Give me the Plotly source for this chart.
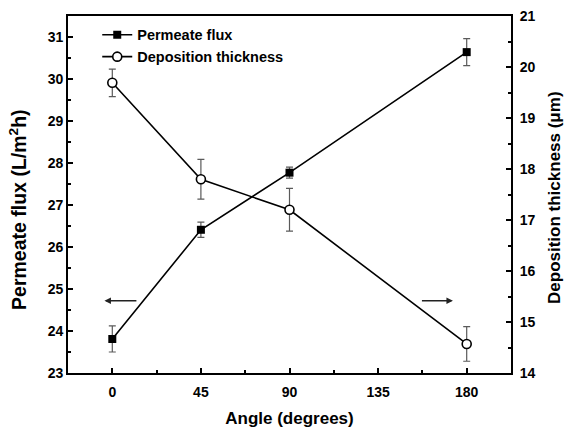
import plotly.graph_objects as go

angles = [0, 45, 90, 180]
flux = [23.81, 26.41, 27.77, 30.64]
flux_err = [0.31, 0.18, 0.13, 0.32]
thickness = [19.69, 17.80, 17.20, 14.57]
thickness_err = [0.27, 0.39, 0.42, 0.34]
x_ticks = [0, 45, 90, 135, 180]
y1_ticks = [23, 24, 25, 26, 27, 28, 29, 30, 31]
y2_ticks = [14, 15, 16, 17, 18, 19, 20, 21]

FONT = "Liberation Sans, Arial, sans-serif"
ERR = "#5a5a5a"

fig = go.Figure()
fig.add_trace(go.Scatter(
    x=angles, y=flux, name="Permeate flux", mode="lines+markers",
    line=dict(color="black", width=1.6),
    marker=dict(symbol="square", size=8, color="black"),
    error_y=dict(type="data", array=flux_err, color=ERR, thickness=1.2, width=3.5),
    yaxis="y"))
fig.add_trace(go.Scatter(
    x=angles, y=thickness, name="Deposition thickness", mode="lines+markers",
    line=dict(color="black", width=1.6),
    marker=dict(symbol="circle", size=9, color="white", line=dict(color="black", width=1.6)),
    error_y=dict(type="data", array=thickness_err, color=ERR, thickness=1.2, width=3.5),
    yaxis="y2"))

axis_common = dict(showgrid=False, zeroline=False, showline=True, linecolor="black",
                   linewidth=1.7, ticks="inside", ticklen=5, tickwidth=1.5, tickcolor="black",
                   automargin=False,
                   tickfont=dict(family=FONT, size=14, color="black", weight="bold"))

fig.update_layout(
    width=566, height=429,
    margin=dict(l=68, r=55, t=16, b=56),
    paper_bgcolor="white", plot_bgcolor="white",
    showlegend=True,
    legend=dict(x=0.066, y=0.992, xanchor="left", yanchor="top", bgcolor="rgba(0,0,0,0)",
                font=dict(family=FONT, size=14.5, color="black", weight="bold"),
                tracegroupgap=0),
    xaxis=dict(range=[-22.5, 202.5], tickvals=x_ticks, mirror=True, ticklabelstandoff=5,
               minor=dict(ticks="inside", ticklen=3, tickwidth=1.5, tickcolor="black", tick0=22.5, dtick=45),
               title=dict(text="Angle (degrees)", font=dict(family=FONT, size=17, color="black", weight="bold"), standoff=13),
               **axis_common),
    yaxis=dict(range=[23, 31.5], tickvals=y1_ticks,
               minor=dict(ticks="inside", ticklen=3, tickwidth=1.5, tickcolor="black", tick0=23.5, dtick=1),
               **axis_common),
    yaxis2=dict(range=[14, 21], tickvals=y2_ticks, overlaying="y", side="right", ticklabelstandoff=4,
                minor=dict(ticks="inside", ticklen=3, tickwidth=1.5, tickcolor="black", tick0=14.5, dtick=1),
                **axis_common),
    annotations=[
        dict(x=-4, y=24.72, ax=13, ay=24.72, xref="x", yref="y", axref="x", ayref="y",
             text="", showarrow=True, arrowhead=2, arrowsize=1, arrowwidth=1.3, arrowcolor="#222222"),
        dict(x=173, y=24.72, ax=156.5, ay=24.72, xref="x", yref="y", axref="x", ayref="y",
             text="", showarrow=True, arrowhead=2, arrowsize=1, arrowwidth=1.3, arrowcolor="#222222"),
        dict(text="Permeate flux (L/m<sup>2</sup>h)", xref="paper", yref="paper",
             x=-0.1127, y=0.457, xanchor="center", yanchor="middle", textangle=-90, showarrow=False,
             font=dict(family=FONT, size=19.5, color="black", weight="bold")),
        dict(text="Deposition thickness (μm)", xref="paper", yref="paper",
             x=1.0993, y=0.493, xanchor="center", yanchor="middle", textangle=-90, showarrow=False,
             font=dict(family=FONT, size=17, color="black", weight="bold")),
    ],
)

fig.write_html("out.html")
